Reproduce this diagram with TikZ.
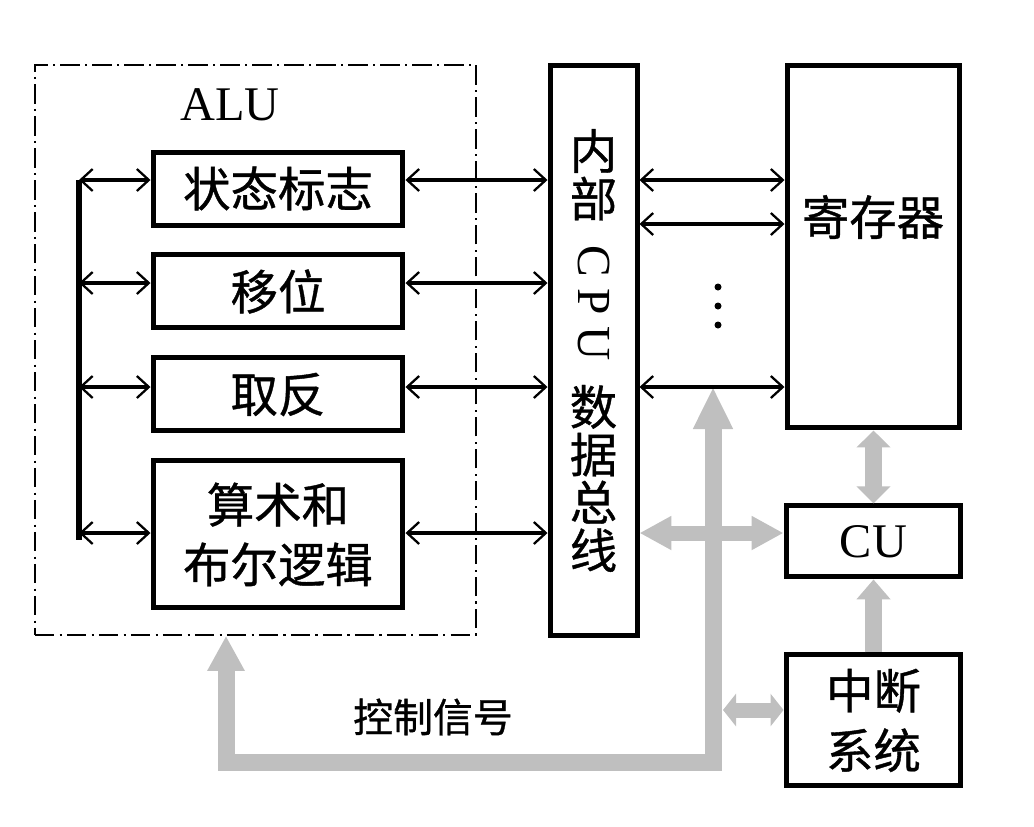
\documentclass[tikz,border=0pt]{standalone}
\usepackage{fontspec}
\setmainfont{Liberation Serif}
\newfontfamily\cjk[FakeBold=0.8]{Noto Sans CJK SC}
\usetikzlibrary{arrows.meta, positioning}
\definecolor{ctrlgray}{RGB}{191,191,191}

\begin{document}
\begin{tikzpicture}[x=0.02cm, y=-0.02cm,
    unit/.style={draw, line width=0.1cm, fill=white, inner sep=0pt,
                 minimum width=5cm, minimum height=1.46cm, align=center,
                 font=\cjk\fontsize{27}{34}\selectfont},
    link/.style={line width=0.08cm,
                 >={Straight Barb[length=2.4mm,width=4.4mm,line width=1.3pt]}, <->},
    fat/.style={draw=ctrlgray, line width=0.34cm, line join=miter}]
    \useasboundingbox (0,0) rectangle (1034,826);

    % ALU frame
        \node[draw,
              line width=1pt,
              dash pattern=on 11pt off 3pt on 1.2pt off 3pt,
              minimum width=8.82cm,
              minimum height=11.4cm] (alu) at (255.5,350) {};
        \node[font=\fontsize{27.5}{30}\selectfont] (alutext) at (230,105) {ALU};

    % Add the units
        \node[unit] (flag) at (278,188.5) {状态标志};
        \node[unit,
              below=0.5cm of flag] (shift) {移位};
        \node[unit,
              below=0.5cm of shift] (invert) {取反};
        \node[unit,
              below=0.5cm of invert,
              minimum height=2.94cm] (logic) {算术和\\布尔逻辑};

        \node[draw,
              line width=0.1cm,
              inner sep=0pt,
              minimum width=1.74cm,
              minimum height=11.42cm,
              align=center,
              font=\cjk\fontsize{27}{27.2}\selectfont] (dbus) at (593.5,350.5)
              {内\\部\\[-11pt]{\rmfamily\rotatebox{-90}{C P U}}\\[12.5pt]数\\据\\总\\线};

        \node[draw,
              line width=0.1cm,
              minimum width=3.46cm,
              minimum height=7.26cm] (reg) at (873.5,246.5) {};
        \node[font=\cjk\fontsize{27}{30}\selectfont] (regtext) at (873,217) {寄存器};
        \node[unit,
              below=1.46cm of reg,
              minimum width=3.5cm,
              minimum height=1.42cm,
              font=\fontsize{27.5}{30}\selectfont] (cu) {CU};
        \node[unit,
              below=1.46cm of cu,
              minimum width=3.5cm,
              minimum height=2.62cm] (intr) {中断\\系统};

        \node[font=\cjk\fontsize{22.7}{26}\selectfont] (ctrltext) at (433,717) {控制信号};

    % rows and bends
        \coordinate (r1) at (0,180);
        \coordinate (r2) at (0,283);
        \coordinate (r3) at (0,387);
        \coordinate (r4) at (0,533);
        \coordinate (rreg) at (0,224);
        \coordinate (bustop) at (79,180);
        \coordinate (busbot) at (79,540);
        \coordinate (ctrlcorner) at (713,762);
        \coordinate (ctrlleft) at (226,762);
        \coordinate (ctrledge) at (723,710);

    % control signals
        \draw[fat, {Triangle[length=0.84cm,width=0.74cm]}-{Triangle[length=0.7cm,width=0.7cm]}]
            (r3 -| ctrlcorner) -- (ctrlcorner) -- (ctrlleft) -- (alu.south -| ctrlleft);
        \draw[fat, line width=0.3cm, {Triangle[length=0.64cm,width=0.64cm]}-{Triangle[length=0.64cm,width=0.64cm]}]
            (r4 -| dbus.east) -- (r4 -| cu.west);
        \draw[fat, {Triangle[length=0.34cm,width=0.66cm]}-{Triangle[length=0.34cm,width=0.66cm]}]
            (reg.south) -- (cu.north);
        \draw[fat, -{Triangle[length=0.4cm,width=0.66cm]}]
            (intr.north) -- (cu.south);
        \draw[fat, line width=0.3cm, {Triangle[length=0.26cm,width=0.64cm]}-{Triangle[length=0.26cm,width=0.64cm]}]
            (ctrledge) -- (ctrledge -| intr.west);

    % data paths
        \draw[line width=0.12cm] (bustop) -- (busbot);
        \draw[link] (bustop |- r1) -- (r1 -| flag.west);
        \draw[link] (bustop |- r2) -- (r2 -| shift.west);
        \draw[link] (bustop |- r3) -- (r3 -| invert.west);
        \draw[link] (bustop |- r4) -- (r4 -| logic.west);

        \draw[link] (r1 -| flag.east) -- (r1 -| dbus.west);
        \draw[link] (r2 -| shift.east) -- (r2 -| dbus.west);
        \draw[link] (r3 -| invert.east) -- (r3 -| dbus.west);
        \draw[link] (r4 -| logic.east) -- (r4 -| dbus.west);

        \draw[link] (r1 -| dbus.east) -- (r1 -| reg.west);
        \draw[link] (rreg -| dbus.east) -- (rreg -| reg.west);
        \draw[link] (r3 -| dbus.east) -- (r3 -| reg.west);
        \foreach \y in {287,306,325}
            \fill (718,\y) circle[radius=0.07cm];
\end{tikzpicture}
\end{document}
